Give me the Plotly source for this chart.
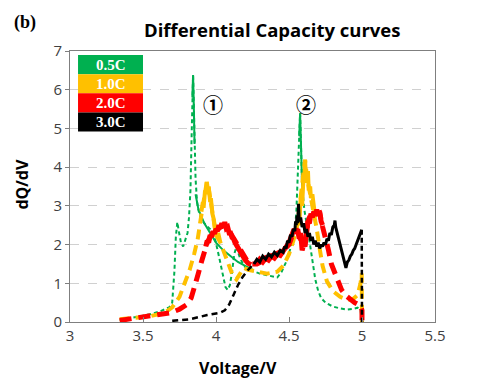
import plotly.graph_objects as go

# ---------------- data ----------------
v_g = [3.34,3.45,3.55,3.62,3.68,3.70,3.715,3.725,3.735,3.745,3.76,3.775,3.79,3.805,3.815,3.825,3.833,3.838,3.843,3.848,3.853,3.86,3.87,3.885,3.90,3.93,3.96,3.99,4.02,4.045,4.065,4.08,4.095,4.11,4.125,4.14,4.16,4.19,4.23,4.30,4.38,4.42,4.45,4.48,4.51,4.535,4.55,4.562,4.57,4.576,4.582,4.59,4.605,4.62,4.64,4.66,4.68,4.70,4.72,4.75,4.80,4.85,4.90,4.94,4.97,4.99,5.0,5.0]
q_g = [0.05,0.12,0.2,0.28,0.38,0.5,1.3,2.2,2.58,2.35,2.05,1.95,2.1,2.3,2.7,3.4,4.8,5.8,6.38,5.6,4.6,3.7,3.1,2.8,2.65,2.5,2.4,2.2,1.7,1.2,0.9,0.83,0.95,1.3,1.75,1.95,1.7,1.45,1.35,1.25,1.18,1.15,1.3,1.55,1.9,2.25,2.8,3.8,4.8,5.39,4.6,3.5,2.9,2.6,2.1,1.6,1.1,0.8,0.62,0.5,0.4,0.35,0.32,0.34,0.37,0.3,0.1,0.0]
v_g2 = [3.86,3.88,3.92,3.96,4.0,4.05,4.1,4.15,4.2,4.25]
q_g2 = [3.3,2.9,2.55,2.3,2.05,1.85,1.7,1.55,1.45,1.35]
v_g3 = [3.838,3.843,3.848,3.853]
q_g3 = [5.8,6.38,5.6,4.6]
v_g4 = [4.57,4.576,4.582,4.59]
q_g4 = [4.8,5.39,4.6,3.5]

v_y = [3.34,3.45,3.55,3.65,3.70,3.75,3.79,3.82,3.85,3.875,3.895,3.91,3.925,3.937,3.95,3.965,3.98,4.0,4.03,4.06,4.09,4.115,4.14,4.165,4.19,4.22,4.28,4.35,4.42,4.46,4.50,4.53,4.56,4.58,4.595,4.61,4.625,4.64,4.655,4.67,4.69,4.71,4.73,4.76,4.80,4.85,4.90,4.94,4.97,4.99,4.998,5.0]
q_y = [0.07,0.1,0.15,0.24,0.38,0.65,1.05,1.35,1.75,2.15,2.65,3.05,3.4,3.62,3.45,3.05,2.6,2.25,2.05,1.75,1.45,1.2,1.1,1.25,1.4,1.35,1.3,1.25,1.3,1.45,1.75,2.1,2.6,3.2,3.7,4.19,3.7,3.4,3.2,2.8,2.4,1.9,1.45,1.05,0.8,0.65,0.57,0.6,0.7,1.0,1.25,0.0]
v_y2 = [3.90,3.91,3.915,3.925,3.93,3.937,3.945,3.95,3.96,3.965,3.975,3.985,3.995,4.005,4.015,4.03]
q_y2 = [2.85,3.1,2.95,3.4,3.3,3.62,3.4,3.5,3.1,3.2,2.8,2.65,2.35,2.2,2.3,2.05]
v_y3 = [4.55,4.56,4.57,4.58,4.59,4.60,4.605,4.61,4.615,4.62,4.63,4.635,4.645,4.65,4.66,4.67,4.68]
q_y3 = [2.4,2.6,2.5,3.2,3.0,3.8,3.6,4.19,3.8,3.6,3.9,3.4,3.5,3.2,3.3,2.9,2.7]

v_r = [3.34,3.42,3.52,3.62,3.69,3.75,3.80,3.83,3.855,3.875,3.90,3.92,3.94,3.96,3.98,4.0,4.03,4.06,4.09,4.12,4.15,4.18,4.21,4.24,4.28,4.33,4.37,4.42,4.46,4.50,4.53,4.555,4.575,4.59,4.60,4.615,4.63,4.65,4.67,4.69,4.71,4.73,4.75,4.77,4.79,4.815,4.84,4.86,4.89,4.92,4.95,4.975,4.99,5.0,5.0]
q_r = [0.04,0.08,0.14,0.2,0.24,0.33,0.45,0.62,0.9,1.2,1.55,1.85,2.05,2.2,2.3,2.35,2.45,2.5,2.35,2.15,1.95,1.75,1.6,1.5,1.5,1.6,1.68,1.75,1.85,2.0,2.3,2.35,2.2,2.0,1.95,2.2,2.6,2.8,2.85,2.8,2.82,2.46,2.2,1.86,1.5,1.26,1.0,0.83,0.68,0.57,0.5,0.45,0.42,0.3,0.0]
v_r2 = [3.93,3.94,3.95,3.96,3.97,3.98,3.99,4.0,4.01,4.02,4.03,4.04,4.05,4.06,4.07,4.08,4.09,4.10,4.11,4.12,4.13,4.14,4.15,4.16,4.17,4.18,4.19,4.2,4.22,4.24]
q_r2 = [1.95,2.1,2.05,2.25,2.2,2.35,2.28,2.4,2.35,2.5,2.42,2.55,2.45,2.58,2.42,2.45,2.3,2.3,2.18,2.15,2.05,1.98,1.9,1.85,1.75,1.72,1.62,1.6,1.52,1.48]
v_r3 = [4.28,4.30,4.32,4.34,4.36,4.38,4.40,4.42,4.44,4.46,4.48,4.50,4.52,4.535,4.55,4.56,4.57,4.58,4.59,4.60,4.61,4.62,4.63,4.64,4.65,4.66,4.67,4.68,4.69,4.70,4.71,4.72,4.73]
q_r3 = [1.5,1.62,1.55,1.65,1.6,1.7,1.65,1.75,1.72,1.85,1.95,2.05,2.25,2.4,2.3,2.4,2.15,2.3,1.85,2.0,1.95,2.4,2.6,2.55,2.8,2.7,2.85,2.75,2.9,2.75,2.85,2.6,2.5]

v_k = [3.70,3.82,3.94,4.03,4.06,4.09,4.12,4.15,4.18,4.22,4.26,4.28]
q_k = [0.03,0.07,0.18,0.24,0.3,0.45,0.7,0.95,1.15,1.35,1.5,1.6]
v_k2 = [4.26,4.28,4.30,4.32,4.34,4.36,4.38,4.40,4.42,4.44,4.46,4.47,4.48,4.49,4.50,4.51,4.52,4.53,4.54,4.545,4.55,4.555,4.56,4.565,4.57,4.58,4.59,4.60,4.61,4.62,4.63,4.64,4.65,4.66,4.67,4.68,4.69,4.70,4.71,4.72,4.73,4.74,4.75,4.76,4.77,4.78,4.79,4.80,4.81,4.815,4.82,4.83,4.84,4.85,4.86,4.87,4.88,4.89,4.90,4.91,4.92,4.93,4.94,4.95,4.96,4.97,4.98,4.99,4.998]
q_k2 = [1.5,1.62,1.55,1.7,1.62,1.75,1.68,1.8,1.72,1.85,1.8,1.95,1.9,2.1,2.05,2.25,2.2,2.4,2.35,2.6,2.5,2.75,2.55,3.05,2.6,2.7,2.45,2.55,2.3,2.4,2.2,2.3,2.1,2.2,2.0,2.1,1.95,2.05,1.9,2.0,1.95,2.05,2.0,2.15,2.1,2.3,2.25,2.45,2.5,2.62,2.45,2.3,2.1,1.95,1.8,1.65,1.5,1.4,1.55,1.6,1.7,1.75,1.85,1.9,2.0,2.1,2.15,2.25,2.38]
v_k3 = [4.998,5.0]
q_k3 = [2.38,0.0]

rates = ["0.5C", "1.0C", "2.0C", "3.0C"]
colors = ["#00B050", "#FFC000", "#FF0000", "#000000"]
x_ticks = [3, 3.5, 4, 4.5, 5, 5.5]
x_tick_text = ["3", "3.5", "4", "4.5", "5", "5.5"]

# ---------------- figure ----------------
fig = go.Figure()

def add(x, y, color, width, dash):
    fig.add_trace(go.Scatter(x=x, y=y, mode="lines", showlegend=False,
                             line=dict(color=color, width=width, dash=dash)))

add(v_g, q_g, colors[0], 2, "4px,3px")
add(v_g2, q_g2, colors[0], 2, "solid")
add(v_g3, q_g3, colors[0], 2, "solid")
add(v_g4, q_g4, colors[0], 2, "solid")
add(v_y, q_y, colors[1], 4, "10px,6px")
add(v_y2, q_y2, colors[1], 4, "solid")
add(v_y3, q_y3, colors[1], 4, "solid")
add(v_r, q_r, colors[2], 5, "12px,7px")
add(v_r2, q_r2, colors[2], 5, "solid")
add(v_r3, q_r3, colors[2], 5, "solid")
add(v_k, q_k, colors[3], 2.5, "6px,4px")
add(v_k2, q_k2, colors[3], 3, "solid")
add(v_k3, q_k3, colors[3], 2.5, "5px,3px")

# plot area: 365 px wide, 271 px high
shapes = []
annotations = []
box_top = 0.985
box_h = 0.0705
for i, (lab, col) in enumerate(zip(rates, colors)):
    y1 = box_top - i * box_h
    y0 = y1 - box_h
    shapes.append(dict(type="rect", xref="paper", yref="paper",
                       x0=0.022, x1=0.2, y0=y0, y1=y1,
                       fillcolor=col, line=dict(width=0), layer="above"))
    annotations.append(dict(xref="paper", yref="paper", x=0.111, y=(y0 + y1) / 2,
                            xanchor="center", yanchor="middle",
                            text="<b>%s</b>" % lab, showarrow=False,
                            font=dict(family="Liberation Serif", size=15, color="white")))

annotations += [
    dict(x=3.98, y=5.63, text="<b>①</b>", showarrow=False, xanchor="center", yanchor="middle",
         font=dict(family="Noto Sans CJK SC", size=20, color="black")),
    dict(x=4.616, y=5.63, text="<b>②</b>", showarrow=False, xanchor="center", yanchor="middle",
         font=dict(family="Noto Sans CJK SC", size=20, color="black")),
    dict(xref="paper", yref="paper", x=-0.16, y=1.107, text="<b>(b)</b>", showarrow=False,
         xanchor="left", yanchor="middle",
         font=dict(family="Liberation Serif", size=18, color="black")),
    dict(xref="paper", yref="paper", x=0.553, y=1.078, text="<b>Differential Capacity curves</b>",
         showarrow=False, xanchor="center", yanchor="middle",
         font=dict(family="Open Sans", size=18.5, color="black")),
    dict(xref="paper", yref="paper", x=0.46, y=-0.17, text="<b>Voltage/V</b>",
         showarrow=False, xanchor="center", yanchor="middle",
         font=dict(family="Open Sans", size=16, color="black")),
    dict(xref="paper", yref="paper", x=-0.132, y=0.51, text="<b>dQ/dV</b>", textangle=-90,
         showarrow=False, xanchor="center", yanchor="middle",
         font=dict(family="Open Sans", size=16, color="black")),
]

fig.update_layout(
    width=472, height=380,
    margin=dict(l=62, r=45, t=43, b=66),
    paper_bgcolor="white", plot_bgcolor="white",
    shapes=shapes, annotations=annotations,
    font=dict(family="Open Sans", size=15, color="#404040"),
)
fig.update_xaxes(range=[3, 5.5], tickvals=x_ticks, ticktext=x_tick_text,
                 showgrid=False, zeroline=False, showline=True, mirror=True,
                 linecolor="#7f7f7f", linewidth=1, ticks="inside", ticklen=5,
                 tickcolor="#7f7f7f", tickfont=dict(size=15, color="#404040"))
fig.update_yaxes(range=[0, 7], dtick=1, showgrid=True, gridcolor="#d0d0d0",
                 griddash="dash", gridwidth=1, zeroline=False, showline=True, mirror=True,
                 linecolor="#7f7f7f", linewidth=1, ticks="outside", ticklen=4,
                 tickcolor="#7f7f7f", tickfont=dict(size=15, color="#404040"))

fig.write_html("out.html")
